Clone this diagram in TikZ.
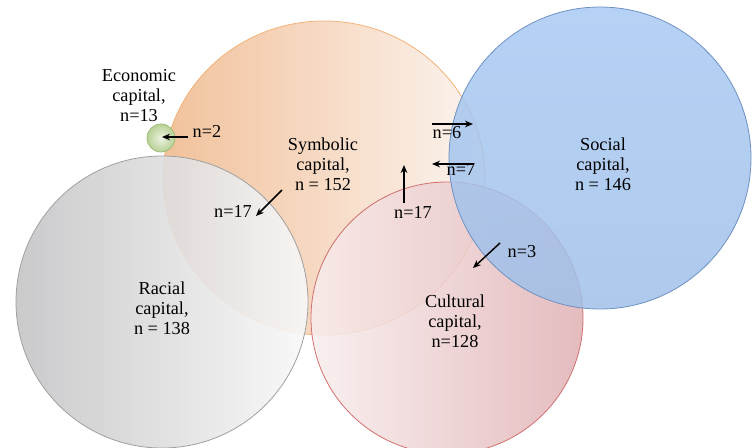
\documentclass[tikz,border=0pt]{standalone}
\usepackage{fontspec}
\setmainfont{Liberation Serif}
\usetikzlibrary{arrows.meta}

\definecolor{symbL}{RGB}{240,188,146}
\definecolor{symbR}{RGB}{251,243,238}
\definecolor{symbE}{RGB}{242,178,120}
\definecolor{raceL}{RGB}{196,196,198}
\definecolor{raceR}{RGB}{248,248,248}
\definecolor{raceE}{RGB}{160,160,160}
\definecolor{cultL}{RGB}{248,237,237}
\definecolor{cultR}{RGB}{224,176,179}
\definecolor{cultE}{RGB}{210,110,110}
\definecolor{socT}{RGB}{168,201,243}
\definecolor{socB}{RGB}{160,192,232}
\definecolor{socE}{RGB}{110,145,195}
\definecolor{econI}{RGB}{236,243,224}
\definecolor{econO}{RGB}{184,208,150}
\definecolor{econE}{RGB}{160,190,120}

\begin{document}
\begin{tikzpicture}[x=0.75pt,y=0.75pt,yscale=-1,xscale=1,
	lbl/.style={inner sep=0.75pt,align=center,font=\fontsize{13.7}{15}\selectfont},
	nar/.style={-{Stealth[length=6pt,width=5pt]},line width=1.1pt,black}]
	\useasboundingbox (0,0) rectangle (753,447);
	
	%Shape: Circle [symbolic]
	\draw [draw=symbE,line width=0.6pt,left color=symbL,right color=symbR,fill opacity=0.92] (324,178) ellipse (161 and 157) ;
	%Shape: Circle [racial]
	\draw [draw=raceE,line width=0.6pt,left color=raceL,right color=raceR,fill opacity=0.9] (162,302) circle (146) ;
	%Shape: Circle [economic]
	\draw [draw=econE,line width=0.6pt,inner color=econI,outer color=econO] (161,138) circle (14) ;
	%Shape: Circle [cultural]
	\draw [draw=cultE,line width=0.6pt,left color=cultL,right color=cultR,fill opacity=0.85] (447,318) circle (136) ;
	%Shape: Circle [social]
	\draw [draw=socE,line width=0.6pt,top color=socT,bottom color=socB,fill opacity=0.85] (600,158) circle (151) ;
	
	% Text Node
	\node [lbl] (econ) at (139,96) {Economic\\capital,\\n=13};
	% Text Node
	\node [lbl] (symb) at (323,164) {Symbolic\\capital,\\n = 152};
	% Text Node
	\node [lbl] (soc) at (603,164) {Social\\capital,\\n = 146};
	% Text Node
	\node [lbl] (race) at (162,308) {Racial\\capital,\\n = 138};
	% Text Node
	\node [lbl] (cult) at (455,321) {Cultural\\capital,\\n=128};
	
	% Text Node
	\node [lbl] (n2) at (207,131) {n=2};
	% Text Node
	\node [lbl] (n6) at (447,133) {n=6};
	% Text Node
	\node [lbl] (n7) at (461,170) {n=7};
	% Text Node
	\node [lbl] (n17b) at (413,212) {n=17};
	% Text Node
	\node [lbl] (n3) at (522,252) {n=3};
	% Text Node
	\node [lbl] (n17a) at (233,211) {n=17};
	
	%Arrow ends
	\coordinate (t2) at (188,137);
	\coordinate (h2) at (162,137);
	\coordinate (t6) at (432,124);
	\coordinate (h6) at (473,124);
	\coordinate (t7) at (473,164);
	\coordinate (h7) at (432,164);
	\coordinate (t17b) at (404,203);
	\coordinate (h17b) at (404,165);
	\coordinate (t3) at (500,243);
	\coordinate (h3) at (473,268);
	\coordinate (t17a) at (282,190);
	\coordinate (h17a) at (256,216);
	
	%Straight Lines
	\draw [nar] (t2) -- (h2) ;
	\draw [nar] (t6) -- (h6) ;
	\draw [nar] (t7) -- (h7) ;
	\draw [nar] (t17b) -- (h17b) ;
	\draw [nar] (t3) -- (h3) ;
	\draw [nar] (t17a) -- (h17a) ;
	
\end{tikzpicture}
\end{document}
